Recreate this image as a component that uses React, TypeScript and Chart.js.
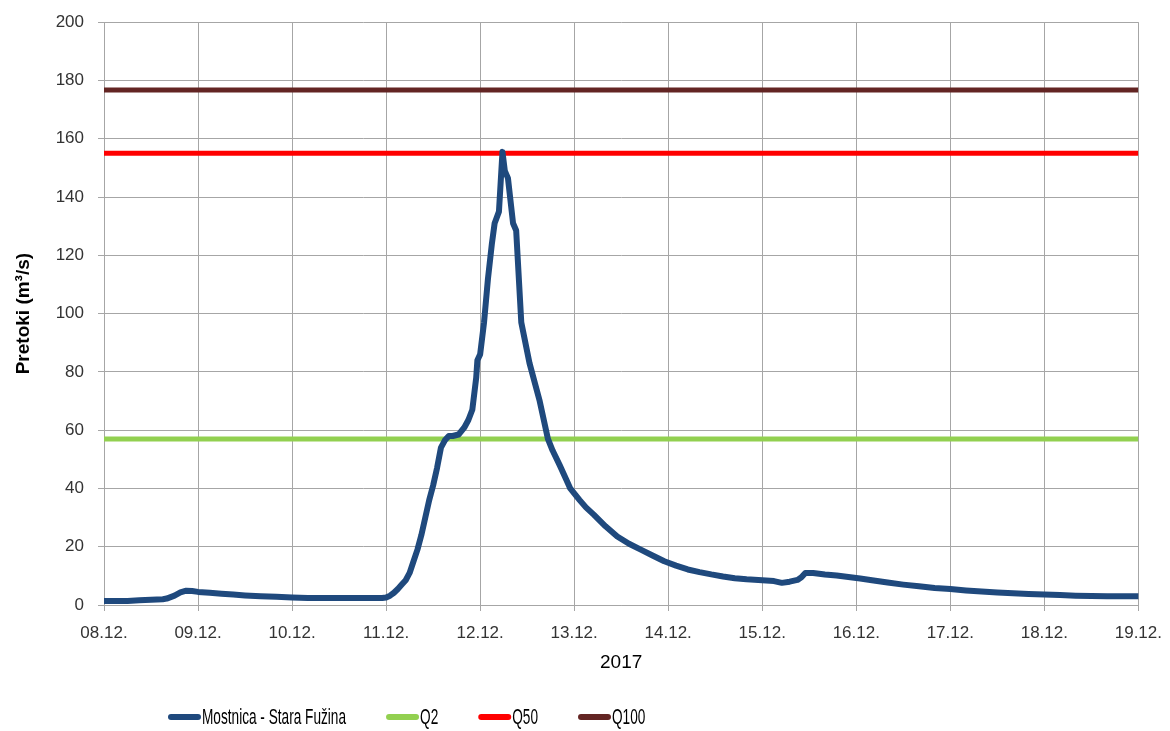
import React, { useEffect, useRef } from "react";
import { Chart, registerables } from "chart.js";

Chart.register(...registerables);

// Hours since 08.12.2017 00:00
const hours = [
  0, 3, 6, 9, 12, 15, 16, 18, 19.5, 21, 22.5, 24, 27, 30, 33, 36, 40, 44, 48, 52, 56, 60, 64, 68, 71,
  72, 73, 74, 75, 76, 77, 78, 79, 80, 81, 82, 83, 84, 85, 86, 87, 88, 89, 90.5, 92, 93, 94, 95, 95.3,
  96, 97, 98, 99, 99.7, 100.8, 101.7, 102.3, 103.1, 104.4, 105.2, 106.5, 108.6, 111.2, 113.3, 114.5,
  116.3, 118, 119, 121.4, 123, 125, 128, 131, 134, 137, 140, 143, 146, 149, 152, 155, 158, 161, 164,
  168, 171, 173, 175, 177, 178, 179, 181, 184, 187, 190, 193, 196, 200, 204, 208, 212, 216, 220, 224,
  228, 232, 236, 240, 244, 248, 252, 256, 260, 264,
];
// Discharge Mostnica - Stara Fužina (m3/s)
const flow = [
  1.4, 1.4, 1.4, 1.6, 1.8, 2.0, 2.2, 3.2, 4.3, 4.9, 4.8, 4.5, 4.2, 3.9, 3.6, 3.3, 3.0, 2.8, 2.6, 2.4,
  2.4, 2.4, 2.4, 2.4, 2.4, 2.6, 3.2, 4.2, 5.5, 7, 8.5, 11, 15, 19, 24, 30, 36, 41, 47, 54, 56.5, 58,
  58, 58.5, 61, 63.5, 67, 78, 84, 86, 97, 112, 124, 131, 135, 155.5, 149, 146.5, 131, 128.5, 97, 83,
  70, 57, 53, 48, 43, 40, 36, 33.5, 31, 27, 23.5, 21, 19, 17, 15, 13.5, 12.2, 11.3, 10.5, 9.8, 9.2,
  8.8, 8.5, 8.2, 7.6, 8.0, 8.6, 9.5, 11, 11, 10.5, 10.1, 9.6, 9.1, 8.5, 7.7, 7.0, 6.4, 5.8, 5.5, 5.0,
  4.6, 4.3, 4.0, 3.8, 3.6, 3.4, 3.2, 3.1, 3.0, 3.0, 3.0,
];
const dateLabels = [
  "08.12.", "09.12.", "10.12.", "11.12.", "12.12.", "13.12.", "14.12.",
  "15.12.", "16.12.", "17.12.", "18.12.", "19.12.",
];
const q2 = 57;
const q50 = 155;
const q100 = 176.7;
const seriesNames = ["Mostnica - Stara Fužina", "Q2", "Q50", "Q100"];

const FONT = "'Liberation Sans', Arial, sans-serif";
const CANVAS_W = 1174;
const CANVAS_H = 733;

// Legend drawn in the original's condensed style, left-shifted under the plot
const legendPlugin = {
  id: "condensedLegend",
  afterDraw(chart: any) {
    const ctx = chart.ctx;
    const y = 719;
    const squeeze = 0.62;
    let x = 168;
    ctx.save();
    ctx.font = "22px " + FONT;
    ctx.textBaseline = "middle";
    chart.data.datasets.forEach((ds: any) => {
      ctx.strokeStyle = ds.borderColor;
      ctx.lineWidth = 6;
      ctx.lineCap = "round";
      ctx.beginPath();
      ctx.moveTo(x + 3, y);
      ctx.lineTo(x + 30, y);
      ctx.stroke();
      const tx = x + 34;
      ctx.save();
      ctx.translate(tx, y);
      ctx.scale(squeeze, 1);
      ctx.fillStyle = "#000";
      ctx.fillText(ds.label, 0, 1);
      ctx.restore();
      const w = ctx.measureText(ds.label).width * squeeze;
      x = tx + w + 40;
    });
    ctx.restore();
  },
};

export default function App() {
  const ref = useRef<HTMLCanvasElement>(null);
  useEffect(() => {
    if (!ref.current) return;
    const maxX = (dateLabels.length - 1) * 24;
    const hline = (v: number) => [
      { x: 0, y: v },
      { x: maxX, y: v },
    ];
    const chart = new Chart(ref.current, {
      type: "line",
      data: {
        datasets: [
          {
            label: seriesNames[0],
            data: hours.map((h, i) => ({ x: h, y: flow[i] })),
            borderColor: "#1F497D",
            backgroundColor: "#1F497D",
            borderWidth: 6,
            borderCapStyle: "round",
            borderJoinStyle: "round",
            pointRadius: 0,
          },
          {
            label: seriesNames[1],
            data: hline(q2),
            borderColor: "#92D050",
            backgroundColor: "#92D050",
            borderWidth: 5,
            pointRadius: 0,
          },
          {
            label: seriesNames[2],
            data: hline(q50),
            borderColor: "#FF0000",
            backgroundColor: "#FF0000",
            borderWidth: 5,
            pointRadius: 0,
          },
          {
            label: seriesNames[3],
            data: hline(q100),
            borderColor: "#632523",
            backgroundColor: "#632523",
            borderWidth: 5,
            pointRadius: 0,
          },
        ],
      },
      options: {
        animation: false,
        responsive: false,
        maintainAspectRatio: false,
        layout: { padding: { top: 17, right: 24, left: 12, bottom: 0 } },
        plugins: {
          tooltip: { enabled: false },
          legend: { display: false },
        },
        scales: {
          x: {
            type: "linear",
            min: 0,
            max: maxX,
            afterFit: (s: any) => {
              s.height = 126;
            },
            ticks: {
              stepSize: 24,
              autoSkip: false,
              maxRotation: 0,
              padding: 12,
              color: "#333",
              font: { family: FONT, size: 17 },
              callback: (v: any) => dateLabels[Math.round(Number(v) / 24)] ?? "",
            },
            grid: { color: "#A6A6A6", lineWidth: 1, tickLength: 6 },
            border: { color: "#A6A6A6" },
            title: {
              display: true,
              text: "2017",
              color: "#000",
              font: { family: FONT, size: 19 },
              padding: { top: 6, bottom: 57 },
            },
          },
          y: {
            min: 0,
            max: 200,
            afterFit: (s: any) => {
              s.width = 92;
            },
            ticks: {
              stepSize: 20,
              padding: 14,
              color: "#333",
              font: { family: FONT, size: 17 },
            },
            grid: { color: "#A6A6A6", lineWidth: 1, tickLength: 6 },
            border: { color: "#A6A6A6" },
            title: {
              display: true,
              text: "Pretoki (m³/s)",
              color: "#000",
              font: { family: FONT, size: 19, weight: "bold" },
              padding: { top: 0, bottom: 4 },
            },
          },
        },
      },
      plugins: [legendPlugin],
    });
    return () => chart.destroy();
  }, []);
  return (
    <div style={{ position: "absolute", left: 0, top: 0, width: 1170, height: 731, overflow: "hidden", background: "#fff" }}>
      <canvas
        ref={ref}
        width={CANVAS_W}
        height={CANVAS_H}
        style={{ position: "absolute", left: 0, top: -2, width: CANVAS_W, height: CANVAS_H }}
      />
    </div>
  );
}
